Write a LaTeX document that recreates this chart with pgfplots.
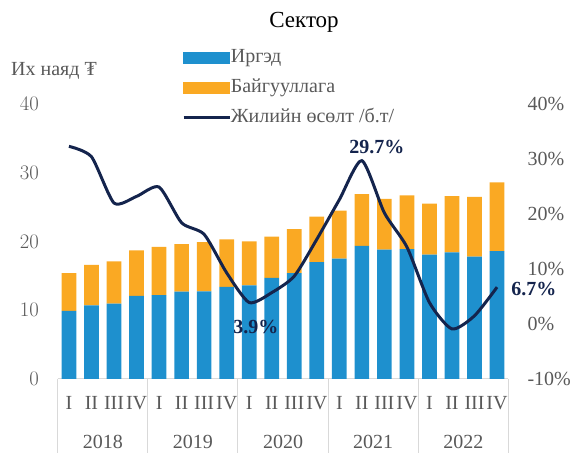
\documentclass[border=0pt]{standalone}
\usepackage{fontspec}
\setmainfont{Liberation Serif}
\usepackage{pgfplots}
\usepackage{pgfplotstable}
\pgfplotsset{compat=1.18}

\definecolor{irged}{RGB}{30,144,206}
\definecolor{baig}{RGB}{250,169,35}
\definecolor{navy}{RGB}{20,36,77}
\definecolor{tickgray}{RGB}{89,89,89}
\definecolor{sepgray}{RGB}{217,217,217}

% quarter, citizens, organisations, yoy growth (%)
\pgfplotstableread{
q  irged baig  growth
1  9.9   5.5   32.3
2  10.7  5.9   30.4
3  10.95 6.15  22.0
4  12.1  6.6   23.2
5  12.2  7.0   24.9
6  12.7  6.9   18.4
7  12.75 7.15  16.3
8  13.4  6.9   9.3
9  13.6  6.4   3.9
10 14.7  6.0   5.7
11 15.4  6.4   8.7
12 17.0  6.6   15.4
13 17.5  7.0   22.6
14 19.35 7.55  29.7
15 18.8  7.4   20.2
16 18.9  7.8   14.0
17 18.1  7.4   3.9
18 18.4  8.2   -0.9
19 17.8  8.7   1.5
20 18.6  10.0  6.7
}\data

\newcommand{\fs}{\fontsize{20bp}{24bp}\selectfont}

\pgfplotsset{
  base/.style={
    at={(57.7bp,74bp)}, anchor=south west,
    scale only axis, width=450.6bp, height=275bp,
    xmin=0.5, xmax=20.5,
    axis line style={draw=none},
    major tick length=0pt,
    tick style={draw=none},
    ticklabel style={font=\fs, text=tickgray},
    clip=false,
  },
}

\begin{document}
\begin{tikzpicture}[x=1bp,y=1bp]
\path[use as bounding box] (0,0) rectangle (574,453);

\begin{axis}[base,
    ymin=0, ymax=40,
    ytick={0,10,20,30,40},
    yticklabel style={anchor=east, inner sep=0pt, xshift=-18.7bp},
    xtick=data,
    xticklabels={I,II,III,IV,I,II,III,IV,I,II,III,IV,I,II,III,IV,I,II,III,IV},
    xticklabel style={anchor=center, inner sep=0pt, yshift=-24bp},
    ybar stacked, bar width=0.652,
]
\addplot[fill=irged, draw=none] table[x=q, y=irged] {\data};
\addplot[fill=baig, draw=none] table[x=q, y=baig] {\data};

\draw[sepgray, line width=1bp] (axis cs:0.5,0) -- (axis cs:20.5,0);
\pgfplotsinvokeforeach{0.5,4.5,8.5,12.5,16.5,20.5}{
  \draw[sepgray, line width=1bp] (axis cs:#1,0) -- ([yshift=-74bp]axis cs:#1,0);
}
\node[font=\fs, text=tickgray, yshift=-63bp] at (axis cs:2.5,0) {2018};
\node[font=\fs, text=tickgray, yshift=-63bp] at (axis cs:6.5,0) {2019};
\node[font=\fs, text=tickgray, yshift=-63bp] at (axis cs:10.5,0) {2020};
\node[font=\fs, text=tickgray, yshift=-63bp] at (axis cs:14.5,0) {2021};
\node[font=\fs, text=tickgray, yshift=-63bp] at (axis cs:18.5,0) {2022};
\end{axis}

\begin{axis}[base,
    ymin=-10, ymax=40,
    xtick=\empty,
    ytick={-10,0,10,20,30,40},
    yticklabels={-10\%,0\%,10\%,20\%,30\%,40\%},
    yticklabel pos=right,
    yticklabel style={anchor=west, inner sep=0pt, xshift=19bp},
    legend cell align=left,
    legend style={
      at={(axis description cs:0.2759,1.2018)}, anchor=north west,
      draw=none, fill=none, inner sep=0pt,
      font=\fs, text=tickgray,
      nodes={inner sep=0pt, text height=14bp, text depth=4bp},
      row sep=12bp,
      /tikz/every even column/.append style={column sep=4.5bp},
    },
]
\addlegendimage{legend image code/.code={\fill[irged] (0bp,-5.6bp) rectangle (46bp,5.6bp);}}
\addlegendentry{Иргэд}
\addlegendimage{legend image code/.code={\fill[baig] (0bp,-5.6bp) rectangle (46bp,5.6bp);}}
\addlegendentry{Байгууллага}
\addplot[navy, line width=3bp, smooth, tension=0.4,
  legend image code/.code={\draw[navy, line width=2.6bp] (0bp,0bp) -- (46bp,0bp);}]
  table[x=q, y=growth] {\data};
\addlegendentry{Жилийн өсөлт /б.т/}

\node[font=\fs\bfseries, text=navy] at (axis cs:14.67,32.2) {29.7\%};
\node[font=\fs\bfseries, text=navy] at (axis cs:9.3,-0.6) {3.9\%};
\node[font=\fs\bfseries, text=navy] at (axis cs:21.64,6.3) {6.7\%};
\end{axis}

\node[font=\fontsize{23bp}{27bp}\selectfont] at (304,431) {Сектор};
\node[font=\fs, text=tickgray, anchor=west, inner sep=0pt] at (11,382) {Их наяд ₮};
\end{tikzpicture}
\end{document}
